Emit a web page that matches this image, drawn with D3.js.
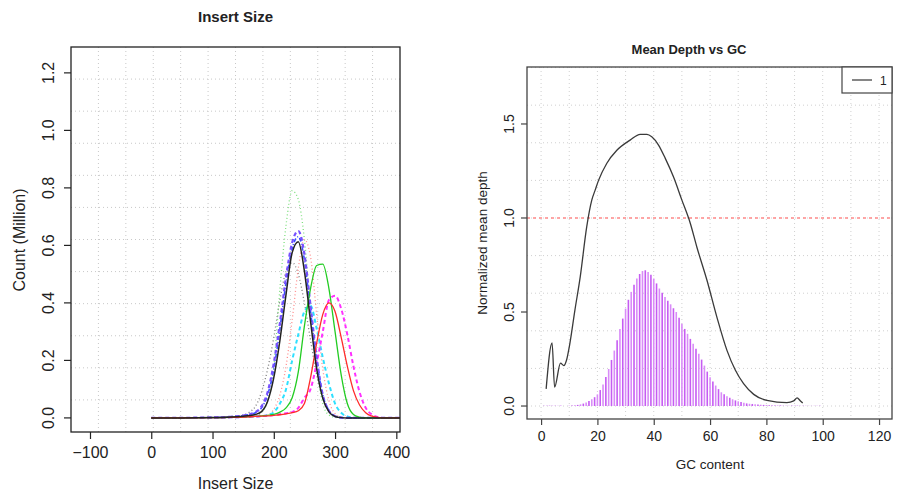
<!DOCTYPE html>
<html>
<head>
<meta charset="utf-8">
<script src="https://cdn.jsdelivr.net/npm/d3@7"></script>
<style>
  body { margin: 0; background: #fff; }
  svg text { font-family: "Liberation Sans", Arial, sans-serif; fill: #222; }
</style>
</head>
<body>
<div id="chart"></div>
<script>
// ---- data: insert size panel ----
const insertX = [0,50,100,130,150,160,170,180,190,200,210,220,230,240,250,260,270,280,290,300,310,320,330,340,350,360,370,380,410];
const blackSolid   = [0,0,0.001,0.003,0.006,0.008,0.012,0.022,0.058,0.14,0.27,0.43,0.575,0.613,0.51,0.336,0.171,0.068,0.021,0.005,0.001,0,0,0,0,0,0,0,0];
const redSolid     = [0,0,0.001,0.002,0.003,0.004,0.005,0.006,0.007,0.009,0.011,0.014,0.018,0.025,0.05,0.14,0.26,0.36,0.40,0.37,0.28,0.18,0.095,0.045,0.018,0.006,0.002,0,0];
const greenSolid   = [0,0,0.001,0.002,0.003,0.004,0.005,0.007,0.009,0.012,0.02,0.035,0.07,0.16,0.32,0.45,0.53,0.535,0.45,0.30,0.15,0.05,0.012,0.003,0,0,0,0,0];
const purpleDash   = [0,0,0.001,0.004,0.008,0.012,0.02,0.04,0.09,0.19,0.33,0.49,0.61,0.65,0.57,0.39,0.21,0.08,0.025,0.006,0.001,0,0,0,0,0,0,0,0];
const cyanDash     = [0,0,0.001,0.002,0.003,0.004,0.005,0.006,0.01,0.02,0.05,0.10,0.20,0.29,0.37,0.39,0.31,0.21,0.12,0.05,0.018,0.005,0.001,0,0,0,0,0,0];
const magentaDash  = [0,0,0.001,0.002,0.003,0.004,0.005,0.006,0.008,0.01,0.013,0.016,0.02,0.035,0.07,0.10,0.19,0.30,0.41,0.425,0.38,0.29,0.18,0.09,0.035,0.012,0.003,0,0];
const grayDot      = [0,0,0.002,0.005,0.01,0.02,0.04,0.09,0.17,0.28,0.41,0.51,0.54,0.50,0.40,0.27,0.15,0.07,0.025,0.008,0.002,0,0,0,0,0,0,0,0];
const salmonDot    = [0,0,0.001,0.002,0.003,0.004,0.005,0.007,0.01,0.03,0.08,0.18,0.34,0.52,0.62,0.56,0.36,0.17,0.06,0.015,0.003,0,0,0,0,0,0,0,0];
const lightGreenDot= [0,0,0,0.001,0.002,0.003,0.005,0.02,0.06,0.18,0.45,0.67,0.79,0.76,0.62,0.38,0.17,0.05,0.01,0.002,0,0,0,0,0,0,0,0,0];
const blueDotDash  = [0,0,0.001,0.004,0.008,0.012,0.018,0.035,0.08,0.17,0.31,0.47,0.59,0.63,0.55,0.37,0.2,0.08,0.025,0.006,0.001,0,0,0,0,0,0,0,0];
const insertTicksX = [-100,0,100,200,300,400];
const insertTicksY = [0,0.2,0.4,0.6,0.8,1.0,1.2];

// ---- data: GC panel ----
const gcLine    = [1.8,3.9,4.8,6.9,8.1,9.0,10.2,12.0,13.9,16.2,18.0,19.2,20.4,23.3,26.9,31.6,35.2,37.6,39.3,41.7,44.1,47.0,50.0,53.0,55.3,58.9,62.4,66.0,69.0,71.9,75.5,80.2,87.3,89.7,90.9,92.1,92.9];
const depthLine = [0.091,0.336,0.10,0.228,0.215,0.242,0.331,0.509,0.687,0.953,1.095,1.148,1.20,1.29,1.36,1.414,1.445,1.445,1.432,1.388,1.317,1.219,1.095,0.971,0.846,0.669,0.474,0.296,0.19,0.119,0.062,0.030,0.018,0.027,0.043,0.027,0.016];
const gcBars = [0,0.002,0.002,0.002,0.002,0.002,0.002,0.002,0,0,
  0.002,0.003,0.004,0.006,0.009,0.013,0.019,0.027,0.036,0.047,
  0.062,0.085,0.115,0.155,0.197,0.245,0.295,0.35,0.41,0.465,
  0.518,0.565,0.607,0.645,0.678,0.702,0.718,0.722,0.713,0.698,
  0.678,0.652,0.625,0.602,0.58,0.56,0.541,0.52,0.50,0.47,
  0.438,0.41,0.384,0.357,0.331,0.305,0.278,0.247,0.215,0.183,
  0.153,0.13,0.109,0.09,0.073,0.062,0.052,0.044,0.036,0.03,
  0.025,0.021,0.017,0.014,0.012,0.011,0.009,0.008,0.007,0.006,
  0.005,0.004,0.004,0.003,0.003,0.003,0.002,0.002,0.002,0.002,
  0.002,0.002,0.002,0.002,0.001,0.001,0.001,0.001,0.001,0.001];
const gcTicksX = [0,20,40,60,80,100,120];
const gcTicksY = [0,0.5,1.0,1.5];
const legendLabels = ["1"];

const svg = d3.select('#chart').append('svg')
  .attr('width', 915).attr('height', 495);

// ================= left panel =================
const L = {left: 71, right: 400, top: 47, bottom: 432};
const xL = d3.scaleLinear().domain([-131, 406]).range([L.left, L.right]);
const yL = d3.scaleLinear().domain([-0.049, 1.29]).range([L.bottom, L.top]);

const gL = svg.append('g');

// grid: 12 equal divisions like R grid()
const gridL = gL.append('g').attr('stroke', '#c8c8c8').attr('stroke-dasharray', '1,3');
d3.range(1, 12).forEach(i => {
  const x = L.left + (L.right - L.left) * i / 12;
  const y = L.top + (L.bottom - L.top) * i / 12;
  gridL.append('line').attr('x1', x).attr('x2', x).attr('y1', L.top).attr('y2', L.bottom);
  gridL.append('line').attr('y1', y).attr('y2', y).attr('x1', L.left).attr('x2', L.right);
});

gL.append('clipPath').attr('id', 'clipL').append('rect')
  .attr('x', L.left).attr('y', L.top).attr('width', L.right - L.left).attr('height', L.bottom - L.top);

const insertSeries = [
  {v: grayDot,       color: '#7a7a7a', w: 1.3, dash: '1,2.5'},
  {v: lightGreenDot, color: '#7fe07f', w: 1.3, dash: '1,2.5'},
  {v: salmonDot,     color: '#ff8c8c', w: 1.3, dash: '1,2.5'},
  {v: cyanDash,      color: '#2fe0ff', w: 2,   dash: '4,3'},
  {v: magentaDash,   color: '#ff30ff', w: 2,   dash: '4,3'},
  {v: blueDotDash,   color: '#3a4dff', w: 1.6, dash: '1,2,4,2'},
  {v: purpleDash,    color: '#7650ff', w: 2.2, dash: '4,3'},
  {v: greenSolid,    color: '#22cc22', w: 1.3, dash: null},
  {v: redSolid,      color: '#ff2a2a', w: 1.3, dash: null},
  {v: blackSolid,    color: '#222222', w: 1.5, dash: null}
];

const lineL = d3.line()
  .x((d, i) => xL(insertX[i]))
  .y(d => yL(d))
  .curve(d3.curveMonotoneX);

gL.append('g').attr('clip-path', 'url(#clipL)')
  .selectAll('path')
  .data(insertSeries)
  .join('path')
  .attr('d', d => lineL(d.v))
  .attr('fill', 'none')
  .attr('stroke', d => d.color)
  .attr('stroke-width', d => d.w)
  .attr('stroke-dasharray', d => d.dash);

gL.append('rect')
  .attr('x', L.left).attr('y', L.top).attr('width', L.right - L.left).attr('height', L.bottom - L.top)
  .attr('fill', 'none').attr('stroke', '#222').attr('stroke-width', 1.3);

// x axis
const axL = gL.append('g').attr('transform', `translate(0,${L.bottom})`)
  .call(d3.axisBottom(xL).tickValues(insertTicksX).tickSize(7).tickPadding(8)
    .tickFormat(d => d < 0 ? '\u2212' + Math.abs(d) : d));
axL.select('.domain').remove();
axL.selectAll('line').attr('stroke', '#222').attr('stroke-width', 1.2);
axL.selectAll('text').attr('font-size', 16).attr('font-family', '"Liberation Sans", Arial, sans-serif').attr('fill', '#222');

// y axis (rotated labels, R style)
const ayL = gL.append('g');
ayL.selectAll('line').data(insertTicksY).join('line')
  .attr('x1', L.left - 7).attr('x2', L.left)
  .attr('y1', d => yL(d)).attr('y2', d => yL(d))
  .attr('stroke', '#222').attr('stroke-width', 1.2);
ayL.selectAll('text').data(insertTicksY).join('text')
  .attr('transform', d => `translate(54,${yL(d)}) rotate(-90)`)
  .attr('text-anchor', 'middle')
  .attr('font-size', 16)
  .text(d => d.toFixed(1));

gL.append('text').attr('x', (L.left + L.right) / 2).attr('y', 22)
  .attr('text-anchor', 'middle').attr('font-size', 15).attr('font-weight', 'bold')
  .text('Insert Size');
gL.append('text').attr('x', (L.left + L.right) / 2).attr('y', 489)
  .attr('text-anchor', 'middle').attr('font-size', 16)
  .text('Insert Size');
gL.append('text').attr('transform', `translate(25,240) rotate(-90)`)
  .attr('text-anchor', 'middle').attr('font-size', 16)
  .text('Count (Million)');

// ================= right panel =================
const R = {left: 527, right: 892, top: 67, bottom: 419};
const xR = d3.scaleLinear().domain([-5, 124.6]).range([R.left, R.right]);
const yR = d3.scaleLinear().domain([-0.069, 1.803]).range([R.bottom, R.top]);

const gR = svg.append('g');

const gridR = gR.append('g').attr('stroke', '#d0d0d0').attr('stroke-dasharray', '1,3');
gridR.selectAll('line.v').data(d3.range(0, 121, 10)).join('line').attr('class', 'v')
  .attr('x1', d => xR(d)).attr('x2', d => xR(d)).attr('y1', R.top).attr('y2', R.bottom);
gridR.selectAll('line.h').data(d3.range(0, 1.81, 0.2)).join('line').attr('class', 'h')
  .attr('y1', d => yR(d)).attr('y2', d => yR(d)).attr('x1', R.left).attr('x2', R.right);

// GC histogram (type = "h")
gR.append('g').selectAll('line').data(gcBars).join('line')
  .attr('x1', (d, i) => xR(i)).attr('x2', (d, i) => xR(i))
  .attr('y1', yR(0)).attr('y2', d => yR(d))
  .attr('stroke', (d, i) => i % 2 ? '#c65cf2' : '#d98cf8')
  .attr('stroke-width', 1.6);

// reference line at 1
gR.append('line')
  .attr('x1', R.left).attr('x2', R.right).attr('y1', yR(1)).attr('y2', yR(1))
  .attr('stroke', '#ff8a8a').attr('stroke-width', 1.4).attr('stroke-dasharray', '3,3');

const lineR = d3.line()
  .x((d, i) => xR(gcLine[i]))
  .y(d => yR(d))
  .curve(d3.curveMonotoneX);
gR.append('path').attr('d', lineR(depthLine))
  .attr('fill', 'none').attr('stroke', '#3a3a3a').attr('stroke-width', 1.3);

gR.append('rect')
  .attr('x', R.left).attr('y', R.top).attr('width', R.right - R.left).attr('height', R.bottom - R.top)
  .attr('fill', 'none').attr('stroke', '#444').attr('stroke-width', 1.3);

// legend
const leg = gR.append('g');
leg.append('rect').attr('x', 842).attr('y', R.top).attr('width', R.right - 842).attr('height', 26)
  .attr('fill', '#fff').attr('stroke', '#444').attr('stroke-width', 1.2);
leg.selectAll('line').data(legendLabels).join('line')
  .attr('x1', 852).attr('x2', 872).attr('y1', 80).attr('y2', 80)
  .attr('stroke', '#444').attr('stroke-width', 1.3);
leg.selectAll('text').data(legendLabels).join('text')
  .attr('x', 880).attr('y', 85).attr('font-size', 12).text(d => d);

// axes
const axR = gR.append('g').attr('transform', `translate(0,${R.bottom})`)
  .call(d3.axisBottom(xR).tickValues(gcTicksX).tickSize(6).tickPadding(6));
axR.select('.domain').remove();
axR.selectAll('line').attr('stroke', '#444').attr('stroke-width', 1.2);
axR.selectAll('text').attr('font-size', 14).attr('font-family', '"Liberation Sans", Arial, sans-serif').attr('fill', '#333');

const ayR = gR.append('g');
ayR.selectAll('line').data(gcTicksY).join('line')
  .attr('x1', R.left - 6).attr('x2', R.left)
  .attr('y1', d => yR(d)).attr('y2', d => yR(d))
  .attr('stroke', '#444').attr('stroke-width', 1.2);
ayR.selectAll('text').data(gcTicksY).join('text')
  .attr('transform', d => `translate(514,${yR(d)}) rotate(-90)`)
  .attr('text-anchor', 'middle').attr('font-size', 14).attr('fill', '#333')
  .text(d => d.toFixed(1));

gR.append('text').attr('x', 689).attr('y', 54)
  .attr('text-anchor', 'middle').attr('font-size', 13).attr('font-weight', 'bold')
  .attr('font-family', '"Open Sans", "Liberation Sans", sans-serif').attr('fill', '#111')
  .text('Mean Depth vs GC');
gR.append('text').attr('x', 710).attr('y', 469)
  .attr('text-anchor', 'middle').attr('font-size', 13.5).attr('fill', '#333')
  .text('GC content');
gR.append('text').attr('transform', `translate(487,243) rotate(-90)`)
  .attr('text-anchor', 'middle').attr('font-size', 13.5).attr('fill', '#333')
  .text('Normalized mean depth');
</script>
</body>
</html>
